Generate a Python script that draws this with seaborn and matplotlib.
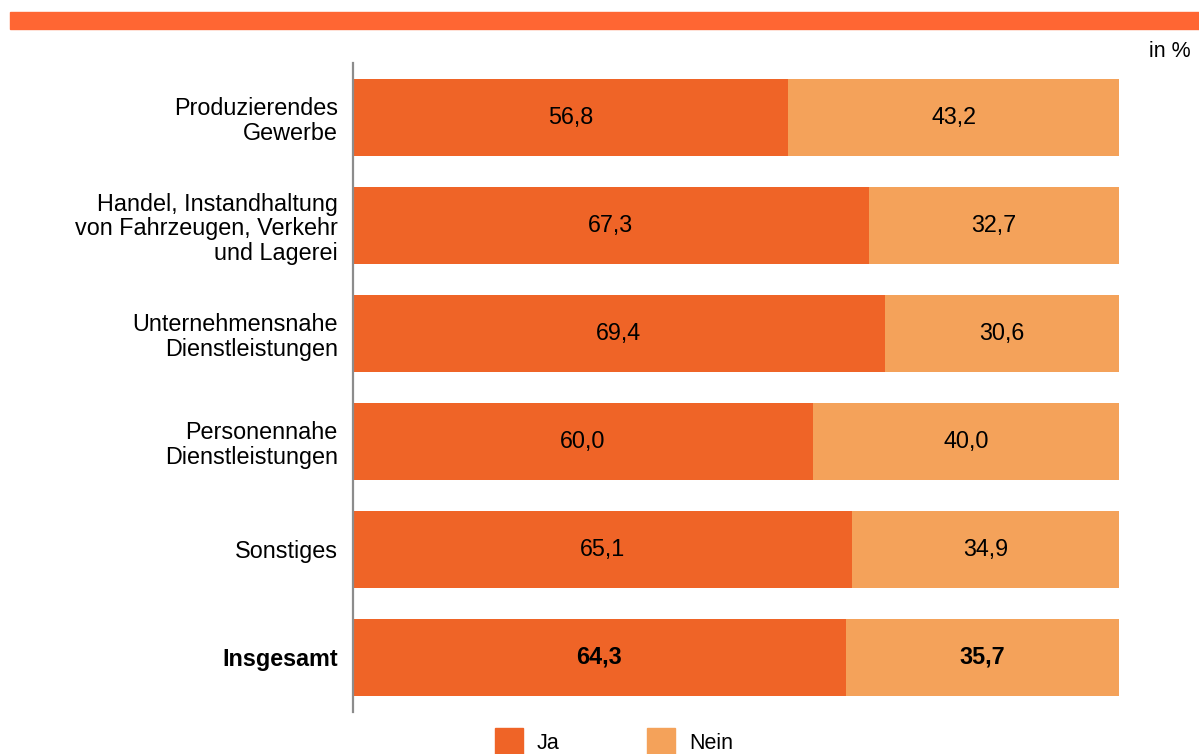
import matplotlib
matplotlib.use("Agg")
import matplotlib.pyplot as plt
import seaborn as sns
import pandas as pd
from matplotlib.patches import Rectangle

categories = [
    "Produzierendes\nGewerbe",
    "Handel, Instandhaltung\nvon Fahrzeugen, Verkehr\nund Lagerei",
    "Unternehmensnahe\nDienstleistungen",
    "Personennahe\nDienstleistungen",
    "Sonstiges",
    "Insgesamt",
]
ja = [56.8, 67.3, 69.4, 60.0, 65.1, 64.3]
nein = [43.2, 32.7, 30.6, 40.0, 34.9, 35.7]
legend_labels = ["Ja", "Nein"]

C_JA = "#EF6427"
C_NEIN = "#F4A25A"
C_BAND = "#FF6633"
FONT = "Liberation Sans"
FS = 16.8

sns.set_theme(style="white")
plt.rcParams["font.family"] = [FONT, "DejaVu Sans"]

df = pd.DataFrame({"cat": categories, "ja": ja, "nein": nein})
df["total"] = df["ja"] + df["nein"]

W, H = 1199, 754
fig = plt.figure(figsize=(W / 100, H / 100), dpi=100)
ax = fig.add_axes([353 / W, 1 - 712 / H, (1119 - 353) / W, (712 - 63) / H])

sns.barplot(data=df, y="cat", x="total", color=C_NEIN, orient="h",
            width=0.713, ax=ax, saturation=1, linewidth=0)
sns.barplot(data=df, y="cat", x="ja", color=C_JA, orient="h",
            width=0.713, ax=ax, saturation=1, linewidth=0)

ax.set_xlim(0, 100)
ax.set_ylim(5.505, -0.505)
ax.set_xlabel("")
ax.set_ylabel("")
ax.set_xticks([])
for s in ["top", "right", "bottom"]:
    ax.spines[s].set_visible(False)
ax.spines["left"].set_color("#8C8C8C")
ax.spines["left"].set_linewidth(1.6)
ax.tick_params(axis="y", length=0, pad=11)
ax.set_yticks(range(len(categories)))
ax.set_yticklabels(categories, fontsize=FS, color="black",
                   linespacing=1.1, ha="right")
last = ax.get_yticklabels()[-1]
last.set_fontweight("bold")

for i, (j, n) in enumerate(zip(ja, nein)):
    w = "bold" if i == len(categories) - 1 else "normal"
    ax.text(j / 2, i, f"{j:.1f}".replace(".", ","), ha="center", va="center",
            fontsize=FS, color="black", fontweight=w)
    ax.text(j + n / 2, i, f"{n:.1f}".replace(".", ","), ha="center", va="center",
            fontsize=FS, color="black", fontweight=w)

# top band
fig.patches.append(Rectangle((10 / W, 1 - 29 / H), 1 - 10 / W, 17 / H,
                             transform=fig.transFigure, color=C_BAND, zorder=0))
fig.text(1191 / W, 1 - 57 / H, "in %", ha="right", va="baseline",
         fontsize=15.5, color="black")

# legend
for x0, tx, lab, col in [(495, 537, legend_labels[0], C_JA),
                         (647, 689, legend_labels[1], C_NEIN)]:
    fig.patches.append(Rectangle((x0 / W, 1 - 756 / H), 28 / W, 28 / H,
                                 transform=fig.transFigure, color=col))
    fig.text(tx / W, 1 - 749 / H, lab, ha="left", va="baseline",
             fontsize=15.5, color="black")

fig.savefig("out.png", dpi=100)
